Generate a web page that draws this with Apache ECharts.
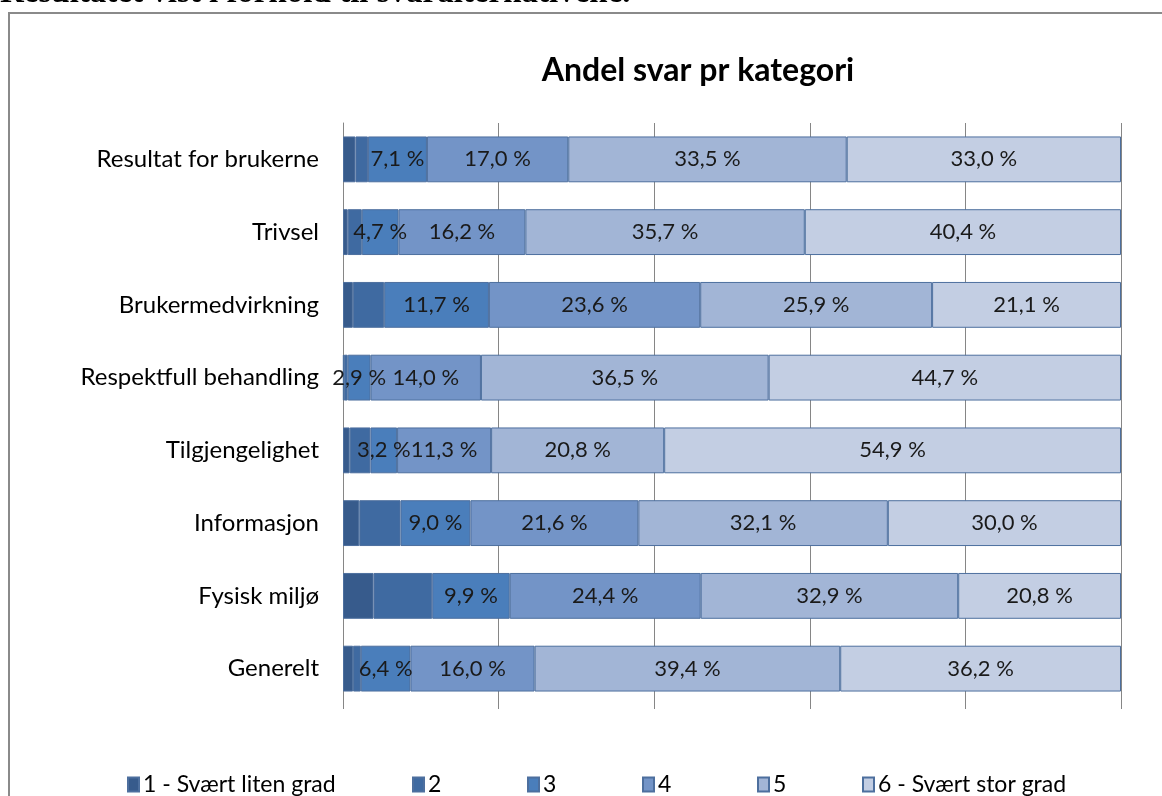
<!DOCTYPE html>
<html>
<head>
<meta charset="utf-8">
<script src="https://cdn.jsdelivr.net/npm/echarts@6/dist/echarts.min.js"></script>
<style>
    html, body { margin: 0; padding: 0; background: #fff; }
    #main { width: 1162px; height: 796px; }
</style>
</head>
<body>
<div id="main"></div>
<script>
    // kategorier (ovenfra og ned)
    const categories = ['Resultat for brukerne', 'Trivsel', 'Brukermedvirkning', 'Respektfull behandling',
        'Tilgjengelighet', 'Informasjon', 'Fysisk miljø', 'Generelt'];

    const seriesNames = ['1 - Svært liten grad', '2', '3', '4', '5', '6 - Svært stor grad'];

    // andel svar i prosent, en liste per svaralternativ
    const grad1 = [1.5, 0.6, 1.1, 0.1, 0.8, 2.1, 3.9, 1.3];
    const grad2 = [1.5, 1.8, 3.5, 0.5, 2.5, 5.3, 7.5, 1.0];
    const grad3 = [7.1, 4.7, 11.7, 2.9, 3.2, 9.0, 9.9, 6.4];
    const grad4 = [17.0, 16.2, 23.6, 14.0, 11.3, 21.6, 24.4, 16.0];
    const grad5 = [33.5, 35.7, 25.9, 36.5, 20.8, 32.1, 32.9, 39.4];
    const grad6 = [33.0, 40.4, 21.1, 44.7, 54.9, 30.0, 20.8, 36.2];

    const allData = [grad1, grad2, grad3, grad4, grad5, grad6];
    const colors = ['#375b8c', '#3f6aa1', '#4a7ebb', '#7394c7', '#a2b5d6', '#c3cee3'];
    const showLabel = [false, false, true, true, true, true];

    // 100 % stablet: hver rad skaleres til summen av raden
    const rowSum = categories.map((c, i) => allData.reduce((s, arr) => s + arr[i], 0));

    const series = allData.map((arr, k) => ({
        name: seriesNames[k],
        type: 'bar',
        stack: 'total',
        barCategoryGap: '37%',
        data: arr.map((v, i) => ({ value: v / rowSum[i] * 100, raw: v })),
        itemStyle: { color: colors[k], borderColor: '#4d6f9e', borderWidth: 1 },
        label: {
            show: showLabel[k],
            position: 'inside',
            color: '#1a1a1a',
            fontFamily: 'Lato',
            fontSize: 22,
            formatter: (p) => p.data.raw.toFixed(1).replace('.', ',') + ' %'
        },
        emphasis: { disabled: true }
    }));

    // legend, en per element for å treffe plasseringen
    const legendLeft = [122, 407, 522, 637, 752, 857];
    const legends = seriesNames.map((n, k) => ({
        data: [n],
        left: legendLeft[k],
        top: 768,
        icon: 'rect',
        itemWidth: 11,
        itemHeight: 14,
        itemGap: 4,
        textStyle: { fontFamily: 'Lato', fontSize: 23, color: '#000', padding: [0, 0, 0, -1] },
        selectedMode: false
    }));

    const myChart = echarts.init(document.getElementById('main'), null, { renderer: 'canvas' });

    const option = {
        animation: false,
        backgroundColor: '#fff',
        title: {
            text: 'Andel svar pr kategori',
            left: 693,
            top: 50,
            textAlign: 'center',
            textStyle: { fontFamily: 'Lato', fontWeight: 'bold', fontSize: 32, color: '#000' }
        },
        graphic: [
            {
                type: 'text',
                x: 0,
                y: -7,
                style: {
                    text: 'Resultatet vist i forhold til svaralternativene.',
                    font: 'bold 33px "Liberation Serif"',
                    fill: '#000',
                    verticalAlign: 'middle'
                }
            },
            {
                type: 'rect',
                shape: { x: 9, y: 13, width: 1200, height: 900 },
                style: { fill: 'none', stroke: '#8a8a8a', lineWidth: 2 },
                z: 10
            }
        ],
        legend: legends,
        grid: { left: 343, right: 41, top: 123, bottom: 91 },
        xAxis: {
            type: 'value',
            min: 0,
            max: 100,
            interval: 20,
            axisLine: { show: false },
            axisTick: { show: true, length: 4, lineStyle: { color: '#868686' } },
            axisLabel: { show: false },
            splitLine: { show: true, lineStyle: { color: '#868686', width: 1 } }
        },
        yAxis: {
            type: 'category',
            data: categories,
            inverse: true,
            axisLine: { show: true, lineStyle: { color: '#868686', width: 1 } },
            axisTick: { show: false },
            axisLabel: { fontFamily: 'Lato', fontSize: 24, color: '#000', margin: 24 }
        },
        series: series
    };

    myChart.setOption(option);
</script>
</body>
</html>
